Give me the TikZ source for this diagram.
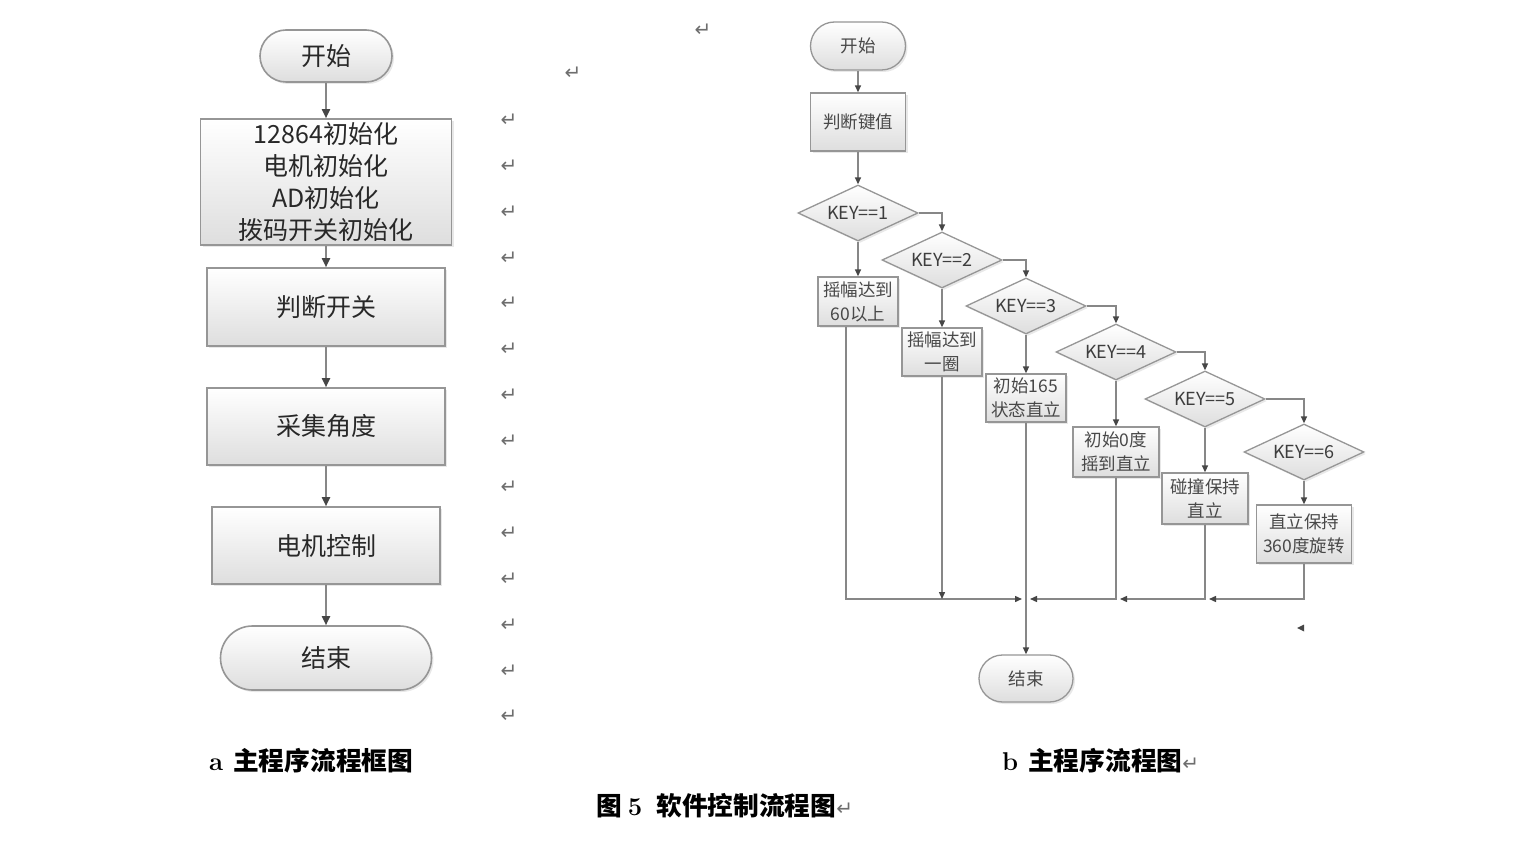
\documentclass[tikz,border=0pt]{standalone}
\usepackage{fontspec}
\newfontfamily\cjk{Noto Sans CJK SC}
\newfontfamily\symf{DejaVu Sans}
\usetikzlibrary{shapes.geometric,arrows.meta,shadows}
\definecolor{edge}{RGB}{150,150,150}
\definecolor{wire}{RGB}{135,135,135}
\definecolor{tip}{RGB}{70,70,70}
\definecolor{txt}{RGB}{40,40,40}
\definecolor{mark}{RGB}{110,110,110}
\tikzset{
  shadefill/.style={top color=white, bottom color=black!13, draw=edge, line width=1.6pt,
    drop shadow={opacity=0.18, shadow xshift=2pt, shadow yshift=-2pt}},
  lbox/.style={shadefill, rectangle, inner sep=0pt, align=center, text=txt,
    font=\cjk\fontsize{25}{32}\selectfont},
  lterm/.style={lbox},
  rbox/.style={shadefill, rectangle, inner sep=0pt, align=center, text=txt!85,
    line width=1.3pt, font=\cjk\fontsize{17.5}{24}\selectfont},
  rdia/.style={shadefill, diamond, shape aspect=2.15, inner sep=0pt, text=txt!90, line width=1.3pt,
    minimum width=120pt, minimum height=56pt, font=\cjk\fontsize{18}{20}\selectfont},
  lconn/.style={draw=wire, line width=1.8pt, -{Triangle[length=9pt,width=8pt,fill=tip,color=tip]}},
  rconn/.style={draw=wire, line width=1.4pt, -{Triangle[length=7pt,width=6pt,fill=tip,color=tip]}},
  retmark/.style={text=mark, font=\symf\fontsize{20}{20}\selectfont, inner sep=0pt},
  captext/.style={text=black, inner sep=0pt, font=\cjk\bfseries\fontsize{25.7}{28}\selectfont}
}
\begin{document}
\begin{tikzpicture}[x=1pt,y=-1pt]
\fill[white] (0,0) rectangle (1516,866);
\useasboundingbox (0,0) rectangle (1516,866);

% ---------- left flowchart ----------
\node[lterm, minimum width=132pt, minimum height=52pt, rounded corners=26pt] (ls) at (326,56) {开始};
\node[lbox, minimum width=251pt, minimum height=126pt] (l1) at (326,182) {12864初始化\\电机初始化\\AD初始化\\拨码开关初始化};
\node[lbox, minimum width=238pt, minimum height=78pt] (l2) at (326,307) {判断开关};
\node[lbox, minimum width=238pt, minimum height=77pt] (l3) at (326,426.5) {采集角度};
\node[lbox, minimum width=228pt, minimum height=77pt] (l4) at (326,545.5) {电机控制};
\node[lterm, minimum width=211pt, minimum height=64pt, rounded corners=32pt] (le) at (326,658) {结束};
\draw[lconn] (ls.south) -- (l1.north);
\draw[lconn] (l1.south) -- (l2.north);
\draw[lconn] (l2.south) -- (l3.north);
\draw[lconn] (l3.south) -- (l4.north);
\draw[lconn] (l4.south) -- (le.north);

% ---------- right flowchart ----------
\node[rbox, minimum width=95pt, minimum height=48pt, rounded corners=24pt] (rs) at (858,46) {开始};
\node[rbox, minimum width=95pt, minimum height=58pt] (rk) at (858,122) {判断键值};
\node[rdia] (d1) at (858,213) {KEY==1};
\node[rdia] (d2) at (942,260) {KEY==2};
\node[rdia] (d3) at (1026,306) {KEY==3};
\node[rdia] (d4) at (1116,352) {KEY==4};
\node[rdia] (d5) at (1205,399) {KEY==5};
\node[rdia] (d6) at (1304,452) {KEY==6};
\node[rbox, minimum width=80pt, minimum height=49pt] (b1) at (858,301.5) {摇幅达到\\60以上};
\node[rbox, minimum width=80pt, minimum height=48pt] (b2) at (942,352) {摇幅达到\\一圈};
\node[rbox, minimum width=80pt, minimum height=48pt] (b3) at (1026,398) {初始165\\状态直立};
\node[rbox, minimum width=86pt, minimum height=50pt] (b4) at (1116,452) {初始0度\\摇到直立};
\node[rbox, minimum width=86pt, minimum height=51pt] (b5) at (1205,498.5) {碰撞保持\\直立};
\node[rbox, minimum width=95pt, minimum height=58pt] (b6) at (1304,534) {直立保持\\360度旋转};
\node[rbox, minimum width=94pt, minimum height=47pt, rounded corners=23.5pt] (re) at (1026,678.5) {结束};
\coordinate (m) at (1022,599);

\draw[rconn] (rs.south) -- (rk.north);
\draw[rconn] (rk.south) -- (d1.north);
\draw[rconn] (d1.east) -| (d2.north);
\draw[rconn] (d2.east) -| (d3.north);
\draw[rconn] (d3.east) -| (d4.north);
\draw[rconn] (d4.east) -| (d5.north);
\draw[rconn] (d5.east) -| (d6.north);
\draw[rconn] (d1.south) -- (b1.north);
\draw[rconn] (d2.south) -- (b2.north);
\draw[rconn] (d3.south) -- (b3.north);
\draw[rconn] (d4.south) -- (b4.north);
\draw[rconn] (d5.south) -- (b5.north);
\draw[rconn] (d6.south) -- (b6.north);

\draw[rconn] ([xshift=-12pt]b1.south) |- (m);
\draw[rconn] (b2.south) -- (b2.south |- m);
\draw[rconn] (b3.south) -- (re.north);
\draw[rconn] (b4.south) |- ([xshift=4pt]b3.south |- m);
\draw[rconn] (b5.south) |- ([xshift=4pt]b4.south |- m);
\draw[rconn] (b6.south) |- ([xshift=4pt]b5.south |- m);
\fill[tip] (1297,628) -- (1304,624.5) -- (1304,631.5) -- cycle;

% ---------- paragraph marks ----------
\node[retmark] (r0) at (703,30) {↵};
\node[retmark] (r1) at (573,73) {↵};
\foreach \i/\yy in {2/120,3/166,4/212,5/258,6/303,7/349,8/395,9/441,10/487,11/533,12/579,13/625,14/671,15/716}
  \node[retmark] (r\i) at (509,\yy) {↵};

% ---------- captions ----------
\node[captext, anchor=west] (ca) at (209,761) {{\rmfamily\bfseries a}\hspace{10pt}主程序流程框图};
\node[captext, anchor=west] (cb) at (1002,761) {{\rmfamily\bfseries b}\hspace{10pt}主程序流程图{\symf\mdseries\color{mark}\fontsize{20}{20}\selectfont ↵}};
\node[captext, anchor=west] (cc) at (596,806) {图{\rmfamily\bfseries\hspace{6pt}5\hspace{14pt}}软件控制流程图{\symf\mdseries\color{mark}\fontsize{20}{20}\selectfont ↵}};
\end{tikzpicture}
\end{document}
